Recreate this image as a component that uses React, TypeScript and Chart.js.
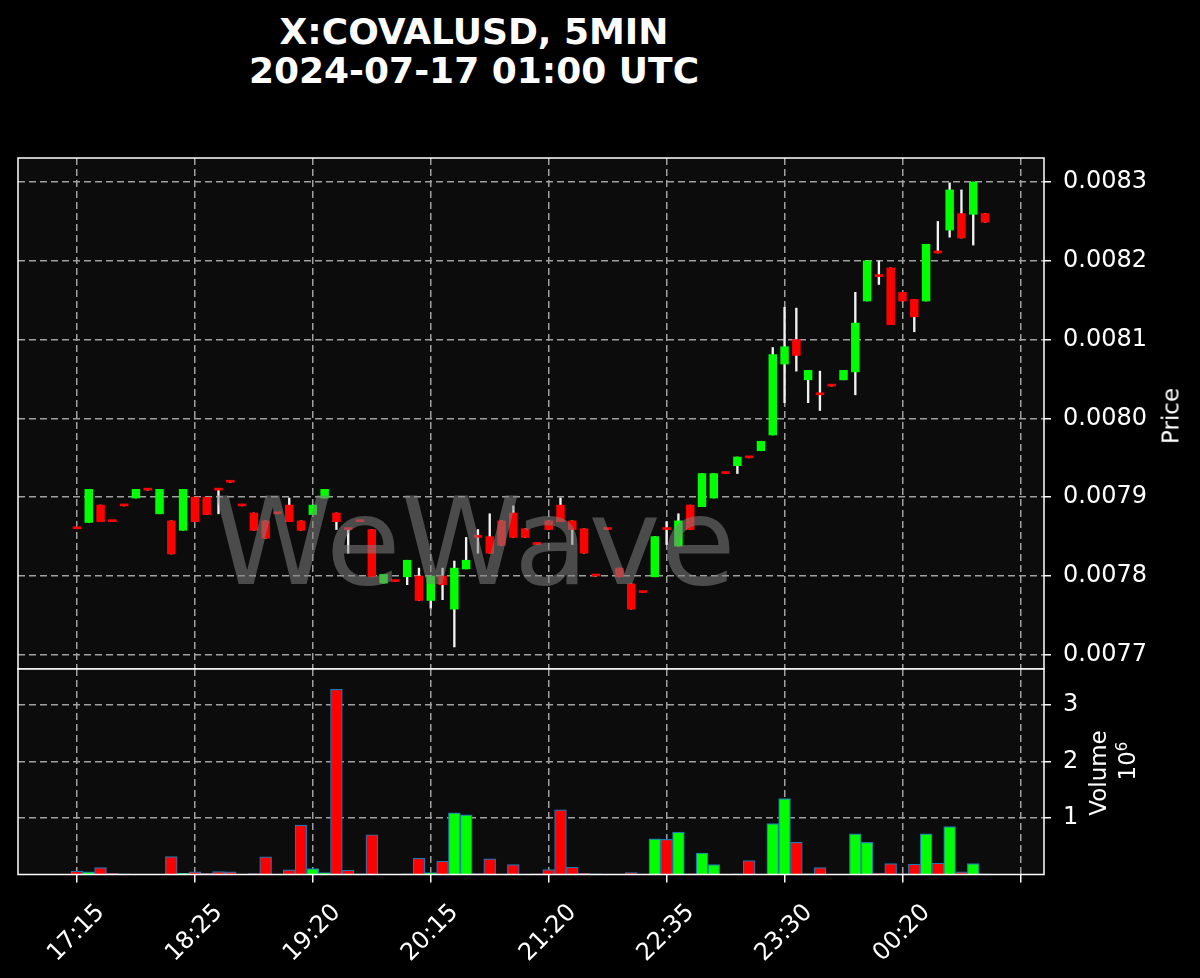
import React, { useEffect, useRef } from 'react';
import { Chart, registerables } from 'chart.js';
Chart.register(...registerables);

// ---- data ----
const timeLabels = ['17:15', '18:25', '19:20', '20:15', '21:20', '22:35', '23:30', '00:20', ''];
const tickIndex = [0, 10, 20, 30, 40, 50, 60, 70, 80];
const priceTicks = [0.0077, 0.0078, 0.0079, 0.008, 0.0081, 0.0082, 0.0083];
const volumeTicks = [1000000, 2000000, 3000000];

const opens = [
  0.007860, 0.007868, 0.007890, 0.007869, 0.007889, 0.007899, 0.007909, 0.007879, 0.007870, 0.007858,
  0.007900, 0.007900, 0.007909, 0.007919, 0.007889, 0.007880, 0.007870, 0.007879, 0.007890, 0.007870,
  0.007878, 0.007899, 0.007880, 0.007859, 0.007869, 0.007859, 0.007791, 0.007793, 0.007799, 0.007800,
  0.007769, 0.007800, 0.007758, 0.007809, 0.007849, 0.007850, 0.007870, 0.007880, 0.007860, 0.007840,
  0.007870, 0.007890, 0.007870, 0.007860, 0.007800, 0.007859, 0.007810, 0.007790, 0.007779, 0.007799,
  0.007859, 0.007838, 0.007890, 0.007888, 0.007899, 0.007930, 0.007940, 0.007950, 0.007959, 0.007979,
  0.008069, 0.008100, 0.008049, 0.008030, 0.008041, 0.008049, 0.008059, 0.008149, 0.008180, 0.008191,
  0.008160, 0.008151, 0.008149, 0.008210, 0.008239, 0.008260, 0.008259, 0.008260,
];
const closes = [
  0.007860, 0.007910, 0.007869, 0.007869, 0.007889, 0.007910, 0.007909, 0.007910, 0.007828, 0.007910,
  0.007869, 0.007878, 0.007909, 0.007919, 0.007889, 0.007858, 0.007848, 0.007879, 0.007869, 0.007858,
  0.007890, 0.007910, 0.007869, 0.007859, 0.007869, 0.007799, 0.007802, 0.007793, 0.007820, 0.007769,
  0.007800, 0.007789, 0.007810, 0.007820, 0.007849, 0.007829, 0.007839, 0.007849, 0.007849, 0.007840,
  0.007859, 0.007869, 0.007859, 0.007829, 0.007800, 0.007859, 0.007799, 0.007758, 0.007779, 0.007850,
  0.007859, 0.007870, 0.007859, 0.007930, 0.007930, 0.007930, 0.007951, 0.007950, 0.007971, 0.008081,
  0.008091, 0.008080, 0.008061, 0.008030, 0.008041, 0.008061, 0.008121, 0.008200, 0.008180, 0.008119,
  0.008149, 0.008129, 0.008221, 0.008210, 0.008290, 0.008229, 0.008300, 0.008249,
];
const highs = [
  0.007860, 0.007910, 0.007890, 0.007869, 0.007889, 0.007910, 0.007909, 0.007910, 0.007870, 0.007910,
  0.007900, 0.007900, 0.007909, 0.007919, 0.007889, 0.007880, 0.007870, 0.007879, 0.007899, 0.007870,
  0.007890, 0.007910, 0.007880, 0.007859, 0.007869, 0.007859, 0.007802, 0.007793, 0.007820, 0.007810,
  0.007800, 0.007810, 0.007819, 0.007849, 0.007859, 0.007879, 0.007870, 0.007889, 0.007860, 0.007840,
  0.007870, 0.007899, 0.007870, 0.007860, 0.007800, 0.007859, 0.007810, 0.007790, 0.007779, 0.007850,
  0.007869, 0.007879, 0.007890, 0.007930, 0.007930, 0.007930, 0.007951, 0.007950, 0.007971, 0.008090,
  0.008141, 0.008140, 0.008061, 0.008060, 0.008041, 0.008061, 0.008160, 0.008200, 0.008200, 0.008191,
  0.008160, 0.008151, 0.008221, 0.008250, 0.008299, 0.008290, 0.008300, 0.008260,
];
const lows = [
  0.007860, 0.007868, 0.007869, 0.007869, 0.007889, 0.007899, 0.007909, 0.007879, 0.007828, 0.007858,
  0.007869, 0.007878, 0.007879, 0.007919, 0.007889, 0.007858, 0.007848, 0.007879, 0.007869, 0.007858,
  0.007878, 0.007899, 0.007859, 0.007829, 0.007869, 0.007799, 0.007791, 0.007793, 0.007789, 0.007769,
  0.007759, 0.007770, 0.007710, 0.007809, 0.007829, 0.007829, 0.007839, 0.007849, 0.007849, 0.007840,
  0.007859, 0.007869, 0.007840, 0.007829, 0.007800, 0.007859, 0.007799, 0.007758, 0.007779, 0.007799,
  0.007840, 0.007838, 0.007859, 0.007888, 0.007899, 0.007930, 0.007930, 0.007950, 0.007959, 0.007979,
  0.008020, 0.008060, 0.008020, 0.008010, 0.008041, 0.008049, 0.008030, 0.008149, 0.008170, 0.008119,
  0.008149, 0.008110, 0.008149, 0.008210, 0.008230, 0.008229, 0.008220, 0.008249,
];
const volumes = [
  59000, 47000, 123000, 20000, 10000, 3000, 3000, 3000, 317000, 23000,
  47000, 20000, 53000, 47000, 3000, 18000, 311000, 3000, 82000, 874000,
  106000, 35000, 3280000, 76000, 10000, 704000, 3000, 3000, 10000, 287000,
  35000, 235000, 1091000, 1056000, 18000, 276000, 3000, 176000, 3000, 12000,
  88000, 1144000, 129000, 20000, 10000, 3000, 3000, 35000, 3000, 633000,
  622000, 751000, 12000, 381000, 176000, 3000, 10000, 246000, 3000, 903000,
  1343000, 569000, 12000, 123000, 3000, 3000, 721000, 569000, 23000, 194000,
  12000, 182000, 721000, 200000, 850000, 47000, 194000, 10000,
];

const UP = '#00ff00';
const DOWN = '#ff0000';
const GRID = '#a0a0a0';
const FONT = 'DejaVu Sans';

const frame = {
  id: 'frame',
  beforeDraw(chart: any) {
    const { ctx, chartArea: a } = chart;
    ctx.save();
    ctx.fillStyle = '#0c0c0c';
    ctx.fillRect(a.left, a.top, a.right - a.left, a.bottom - a.top);
    ctx.restore();
  },
  afterDraw(chart: any) {
    const { ctx, chartArea: a } = chart;
    ctx.save();
    ctx.strokeStyle = '#ffffff';
    ctx.lineWidth = 1.5;
    ctx.strokeRect(a.left, a.top, a.right - a.left, a.bottom - a.top);
    ctx.restore();
  },
};

const watermark = {
  id: 'watermark',
  afterDatasetsDraw(chart: any) {
    const { ctx, chartArea: a } = chart;
    ctx.save();
    ctx.beginPath();
    ctx.rect(a.left, a.top, a.right - a.left, a.bottom - a.top);
    ctx.clip();
    ctx.font = `122px "${FONT}"`;
    ctx.fillStyle = 'rgba(128,128,128,0.55)';
    ctx.textAlign = 'center';
    ctx.textBaseline = 'alphabetic';
    ctx.fillText('WeWave', 474, 584);
    ctx.restore();
  },
};

function xScale(showLabels: boolean) {
  return {
    type: 'linear',
    min: -5,
    max: 82,
    offset: false,
    afterBuildTicks: (s: any) => {
      s.ticks = tickIndex.map((v) => ({ value: v }));
    },
    afterFit: showLabels
      ? (s: any) => {
          s.height = 103.5;
        }
      : (s: any) => {
          s.height = 0;
        },
    ticks: {
      display: showLabels,
      autoSkip: false,
      minRotation: 45,
      maxRotation: 45,
      labelOffset: 24,
      padding: 16,
      color: '#ffffff',
      font: { family: FONT, size: 24 },
      callback: (v: number) => {
        const k = tickIndex.indexOf(v);
        return k >= 0 ? timeLabels[k] : '';
      },
    },
    grid: {
      offset: false,
      color: GRID,
      lineWidth: 1.5,
      drawTicks: showLabels,
      tickLength: 8,
      tickColor: '#ffffff',
      tickWidth: 1.5,
    },
    border: { display: false, dash: [7, 4] },
  };
}

function yGrid() {
  return {
    color: GRID,
    lineWidth: 1.5,
    drawTicks: true,
    tickLength: 7,
    tickColor: '#ffffff',
    tickWidth: 1.5,
  };
}

export default function App() {
  const priceRef = useRef<HTMLCanvasElement>(null);
  const volRef = useRef<HTMLCanvasElement>(null);

  useEffect(() => {
    const idx = opens.map((_, i) => i);
    const colors = opens.map((o, i) => (closes[i] > o ? UP : DOWN));

    const priceChart = new Chart(priceRef.current as HTMLCanvasElement, {
      type: 'bar',
      data: {
        datasets: [
          {
            label: 'body',
            order: 0,
            data: idx.map((i) => ({ x: i, y: [opens[i], closes[i]] })) as any,
            backgroundColor: colors,
            borderWidth: 0,
            barThickness: 7.8,
            minBarLength: 2,
            grouped: false,
          } as any,
          {
            label: 'wick',
            order: 1,
            data: idx.map((i) => ({ x: i, y: [lows[i], highs[i]] })) as any,
            backgroundColor: '#f2f2f2',
            borderWidth: 0,
            barThickness: 1.7,
            grouped: false,
          } as any,
        ],
      },
      options: {
        responsive: false,
        animation: false,
        devicePixelRatio: 1,
        layout: { padding: { left: 18, top: 158, right: 0, bottom: 31 } },
        plugins: { legend: { display: false }, tooltip: { enabled: false } },
        scales: {
          x: xScale(false) as any,
          y: {
            type: 'linear',
            position: 'right',
            min: 0.007682,
            max: 0.0083305,
            afterBuildTicks: (s: any) => {
              s.ticks = priceTicks.map((v) => ({ value: v }));
            },
            afterFit: (s: any) => {
              s.width = 156;
            },
            ticks: {
              color: '#ffffff',
              padding: 12,
              font: { family: FONT, size: 24 },
              callback: (v: number) => Number(v).toFixed(4),
            },
            grid: yGrid(),
            border: { display: false, dash: [7, 4] },
          } as any,
        },
      },
      plugins: [frame, watermark],
    });

    const volChart = new Chart(volRef.current as HTMLCanvasElement, {
      type: 'bar',
      data: {
        datasets: [
          {
            label: 'volume',
            data: idx.map((i) => ({ x: i, y: volumes[i] })) as any,
            backgroundColor: colors,
            borderColor: '#1f77b4',
            borderWidth: 1.2,
            barThickness: 11.8,
            grouped: false,
          } as any,
        ],
      },
      options: {
        responsive: false,
        animation: false,
        devicePixelRatio: 1,
        layout: { padding: { left: 18, top: 30, right: 0, bottom: 0 } },
        plugins: { legend: { display: false }, tooltip: { enabled: false } },
        scales: {
          x: xScale(true) as any,
          y: {
            type: 'linear',
            position: 'right',
            min: 0,
            max: 3640000,
            afterBuildTicks: (s: any) => {
              s.ticks = volumeTicks.map((v) => ({ value: v }));
            },
            afterFit: (s: any) => {
              s.width = 156;
            },
            ticks: {
              color: '#ffffff',
              padding: 12,
              font: { family: FONT, size: 24 },
              callback: (v: number) => String(Math.round(v / 1000000)),
            },
            grid: yGrid(),
            border: { display: false, dash: [7, 4] },
          } as any,
        },
      },
      plugins: [frame],
    });

    return () => {
      priceChart.destroy();
      volChart.destroy();
    };
  }, []);

  const rot = (cx: number, cy: number): React.CSSProperties => ({
    position: 'absolute',
    left: cx,
    top: cy,
    transform: 'translate(-50%, -50%) rotate(-90deg)',
    whiteSpace: 'nowrap',
    color: '#ffffff',
    fontFamily: FONT,
    fontSize: 23,
    lineHeight: 1,
  });

  return (
    <div
      style={{
        position: 'fixed',
        left: 0,
        top: 0,
        width: 1200,
        height: 978,
        background: '#000000',
        overflow: 'hidden',
        fontFamily: FONT,
      }}
    >
      <div
        style={{
          position: 'absolute',
          left: 0,
          top: 12,
          width: 948,
          textAlign: 'center',
          color: '#ffffff',
          fontWeight: 'bold',
          fontSize: 36,
          lineHeight: '39px',
        }}
      >
        X:COVALUSD, 5MIN
        <br />
        2024-07-17 01:00 UTC
      </div>
      <canvas
        ref={priceRef}
        width={1200}
        height={700}
        style={{ position: 'absolute', left: 0, top: 0, width: 1200, height: 700 }}
      />
      <canvas
        ref={volRef}
        width={1200}
        height={339}
        style={{ position: 'absolute', left: 0, top: 639, width: 1200, height: 339 }}
      />
      <div style={rot(1171, 416)}>Price</div>
      <div style={rot(1098, 773)}>Volume</div>
      <div style={rot(1127, 761)}>
        10<sup style={{ fontSize: 15 }}>6</sup>
      </div>
    </div>
  );
}
